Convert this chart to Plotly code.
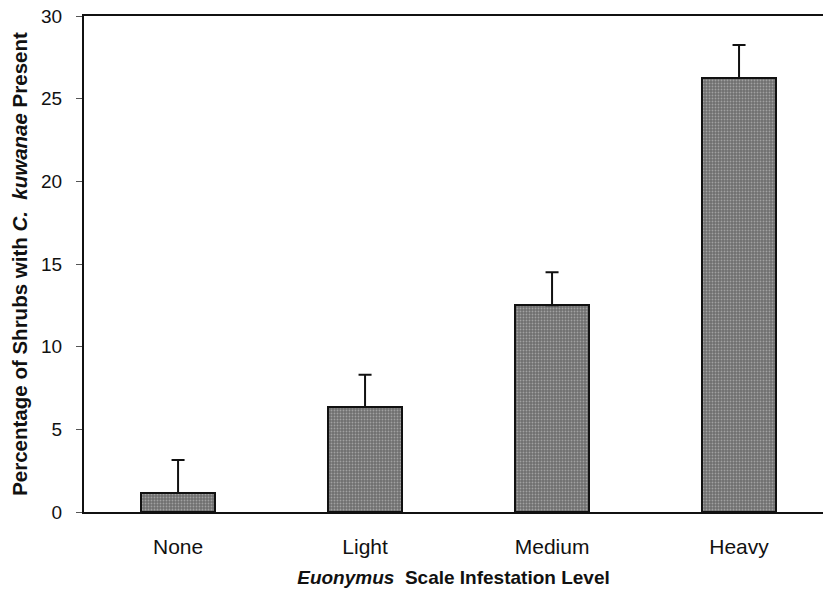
import plotly.graph_objects as go

categories = ["None", "Light", "Medium", "Heavy"]
values = [1.15, 6.35, 12.5, 26.25]
errors = [2.0, 1.95, 2.0, 2.0]
y_ticks = [0, 5, 10, 15, 20, 25, 30]

FONT = "Liberation Sans, Arial, sans-serif"

fig = go.Figure()
fig.add_trace(go.Bar(
    x=list(range(len(categories))),
    y=values,
    width=0.4,
    marker=dict(
        color="#7a7a7a",
        line=dict(color="#111111", width=2),
        pattern=dict(shape=".", fgcolor="#d4d4d4", bgcolor="#6e6e6e", size=3, solidity=0.3),
    ),
    error_y=dict(type="data", symmetric=False, array=errors, arrayminus=[0] * len(errors),
                 color="#111111", thickness=2, width=6.5),
    showlegend=False,
))

fig.update_layout(
    width=823, height=592,
    margin=dict(l=84, r=0, t=16, b=80),
    paper_bgcolor="white", plot_bgcolor="white",
    font=dict(family=FONT, color="#111111"),
    bargap=0,
    xaxis=dict(
        range=[-0.503, 3.449],
        tickmode="array", tickvals=list(range(len(categories))), ticktext=categories,
        tickfont=dict(size=21, family=FONT),
        ticks="", showline=True, linecolor="#111111", linewidth=2, mirror=True,
        ticklabelstandoff=15,
        showgrid=False, zeroline=False,
        title=dict(text="<b><i>Euonymus</i>  Scale Infestation Level</b>", font=dict(size=19, family=FONT), standoff=13),
    ),
    yaxis=dict(
        range=[0, 30],
        tickmode="array", tickvals=y_ticks, ticktext=[str(v) for v in y_ticks],
        tickfont=dict(size=19, family=FONT),
        ticks="outside", ticklen=6, tickcolor="#555555", tickwidth=1,
        ticklabelstandoff=10,
        showline=True, linecolor="#111111", linewidth=2, mirror=False,
        showgrid=False, zeroline=False,
        title=dict(text="<b>Percentage of Shrubs with <i>C.  kuwanae</i> Present</b>", font=dict(size=20.5, family=FONT), standoff=8),
    ),
)

fig.write_html("out.html")
